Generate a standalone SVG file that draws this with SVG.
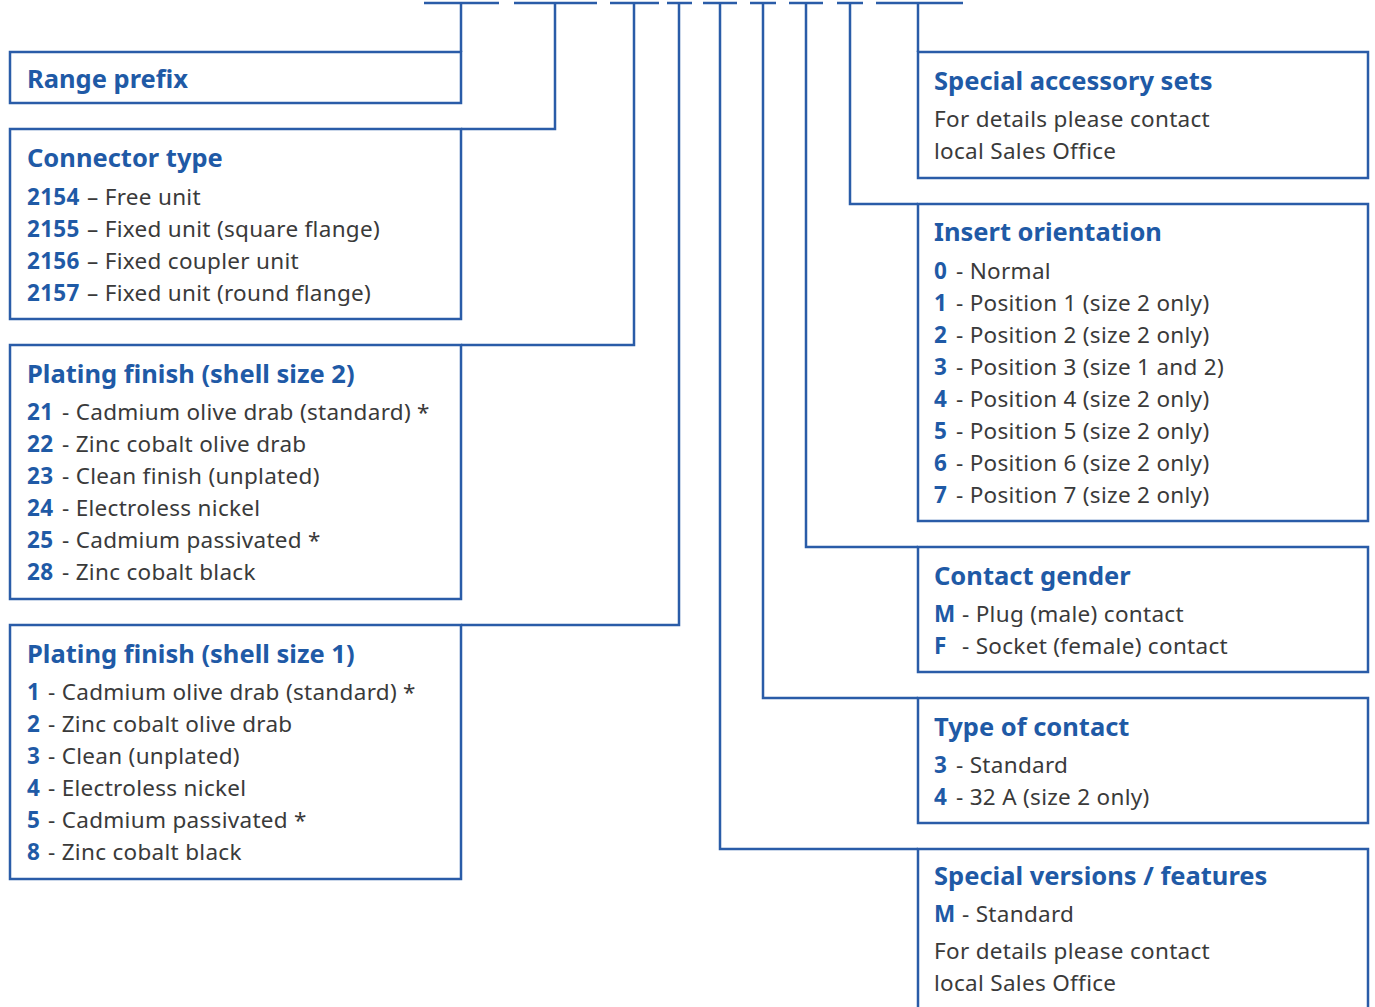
<svg xmlns="http://www.w3.org/2000/svg" width="1375" height="1007" viewBox="0 0 1375 1007">
<style>
.box{fill:#fff;stroke:#2a5ca8;stroke-width:2.5}
.ln{fill:none;stroke:#2a5ca8;stroke-width:2.5}
.h{font-family:"Noto Sans","Open Sans",sans-serif;font-weight:700;font-size:25.5px;fill:#1f5aa6}
.t{font-family:"Noto Sans","Open Sans",sans-serif;font-size:22.5px;letter-spacing:0.3px;fill:#3a3a3a}
.n{font-weight:700;fill:#1f5aa6}
</style>
<rect width="1375" height="1007" fill="#fff"/>
<g id="connectors">
<path class="ln" d="M424 3H499M514 3H597M610 3H659M667 3H692M703 3H737M750 3H776M789 3H823M837 3H863M876 3H963"/>
<path class="ln" d="M461 3V52"/>
<path class="ln" d="M555 3V129H461"/>
<path class="ln" d="M634 3V345H461"/>
<path class="ln" d="M679 3V625H461"/>
<path class="ln" d="M918 3V52"/>
<path class="ln" d="M850 3V204H918"/>
<path class="ln" d="M806 3V547H918"/>
<path class="ln" d="M763 3V698H918"/>
<path class="ln" d="M720 3V849H918"/>
</g>
<g id="range-prefix">
<rect class="box" x="10" y="52" width="451" height="51"/>
<text class="h" x="27" y="88">Range prefix</text>
</g>
<g id="connector-type">
<rect class="box" x="10" y="129" width="451" height="190"/>
<text class="h" x="27" y="167">Connector type</text>
<text class="t" y="205"><tspan class="n" x="27">2154</tspan><tspan x="87">– Free unit</tspan></text>
<text class="t" y="237"><tspan class="n" x="27">2155</tspan><tspan x="87">– Fixed unit (square flange)</tspan></text>
<text class="t" y="269"><tspan class="n" x="27">2156</tspan><tspan x="87">– Fixed coupler unit</tspan></text>
<text class="t" y="301"><tspan class="n" x="27">2157</tspan><tspan x="87">– Fixed unit (round flange)</tspan></text>
</g>
<g id="plating-size-2">
<rect class="box" x="10" y="345" width="451" height="254"/>
<text class="h" x="27" y="383">Plating finish (shell size 2)</text>
<text class="t" y="420"><tspan class="n" x="27">21</tspan><tspan x="62">- Cadmium olive drab (standard) *</tspan></text>
<text class="t" y="452"><tspan class="n" x="27">22</tspan><tspan x="62">- Zinc cobalt olive drab</tspan></text>
<text class="t" y="484"><tspan class="n" x="27">23</tspan><tspan x="62">- Clean finish (unplated)</tspan></text>
<text class="t" y="516"><tspan class="n" x="27">24</tspan><tspan x="62">- Electroless nickel</tspan></text>
<text class="t" y="548"><tspan class="n" x="27">25</tspan><tspan x="62">- Cadmium passivated *</tspan></text>
<text class="t" y="580"><tspan class="n" x="27">28</tspan><tspan x="62">- Zinc cobalt black</tspan></text>
</g>
<g id="plating-size-1">
<rect class="box" x="10" y="625" width="451" height="254"/>
<text class="h" x="27" y="663">Plating finish (shell size 1)</text>
<text class="t" y="700"><tspan class="n" x="27">1</tspan><tspan x="48">- Cadmium olive drab (standard) *</tspan></text>
<text class="t" y="732"><tspan class="n" x="27">2</tspan><tspan x="48">- Zinc cobalt olive drab</tspan></text>
<text class="t" y="764"><tspan class="n" x="27">3</tspan><tspan x="48">- Clean (unplated)</tspan></text>
<text class="t" y="796"><tspan class="n" x="27">4</tspan><tspan x="48">- Electroless nickel</tspan></text>
<text class="t" y="828"><tspan class="n" x="27">5</tspan><tspan x="48">- Cadmium passivated *</tspan></text>
<text class="t" y="860"><tspan class="n" x="27">8</tspan><tspan x="48">- Zinc cobalt black</tspan></text>
</g>
<g id="special-accessory-sets">
<rect class="box" x="918" y="52" width="450" height="126"/>
<text class="h" x="934" y="90">Special accessory sets</text>
<text class="t" x="934" y="127">For details please contact</text>
<text class="t" x="934" y="159">local Sales Office</text>
</g>
<g id="insert-orientation">
<rect class="box" x="918" y="204" width="450" height="317"/>
<text class="h" x="934" y="241">Insert orientation</text>
<text class="t" y="279"><tspan class="n" x="934">0</tspan><tspan x="956">- Normal</tspan></text>
<text class="t" y="311"><tspan class="n" x="934">1</tspan><tspan x="956">- Position 1 (size 2 only)</tspan></text>
<text class="t" y="343"><tspan class="n" x="934">2</tspan><tspan x="956">- Position 2 (size 2 only)</tspan></text>
<text class="t" y="375"><tspan class="n" x="934">3</tspan><tspan x="956">- Position 3 (size 1 and 2)</tspan></text>
<text class="t" y="407"><tspan class="n" x="934">4</tspan><tspan x="956">- Position 4 (size 2 only)</tspan></text>
<text class="t" y="439"><tspan class="n" x="934">5</tspan><tspan x="956">- Position 5 (size 2 only)</tspan></text>
<text class="t" y="471"><tspan class="n" x="934">6</tspan><tspan x="956">- Position 6 (size 2 only)</tspan></text>
<text class="t" y="503"><tspan class="n" x="934">7</tspan><tspan x="956">- Position 7 (size 2 only)</tspan></text>
</g>
<g id="contact-gender">
<rect class="box" x="918" y="547" width="450" height="125"/>
<text class="h" x="934" y="585">Contact gender</text>
<text class="t" y="622"><tspan class="n" x="934">M</tspan><tspan x="962">- Plug (male) contact</tspan></text>
<text class="t" y="654"><tspan class="n" x="934">F</tspan><tspan x="962">- Socket (female) contact</tspan></text>
</g>
<g id="type-of-contact">
<rect class="box" x="918" y="698" width="450" height="125"/>
<text class="h" x="934" y="736">Type of contact</text>
<text class="t" y="773"><tspan class="n" x="934">3</tspan><tspan x="956">- Standard</tspan></text>
<text class="t" y="805"><tspan class="n" x="934">4</tspan><tspan x="956">- 32 A (size 2 only)</tspan></text>
</g>
<g id="special-versions">
<rect class="box" x="918" y="849" width="450" height="170"/>
<text class="h" x="934" y="885">Special versions / features</text>
<text class="t" y="922"><tspan class="n" x="934">M</tspan><tspan x="962">- Standard</tspan></text>
<text class="t" x="934" y="959">For details please contact</text>
<text class="t" x="934" y="991">local Sales Office</text>
</g>
</svg>
